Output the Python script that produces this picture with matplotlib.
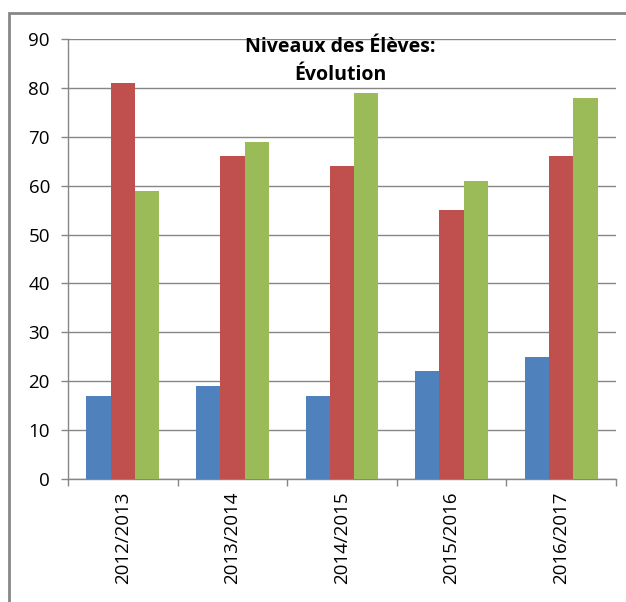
import matplotlib.pyplot as plt
import numpy as np
from matplotlib.patches import Rectangle

annees = ["2012/2013", "2013/2014", "2014/2015", "2015/2016", "2016/2017"]
serie_bleue = [17, 19, 17, 22, 25]
serie_rouge = [81, 66, 64, 55, 66]
serie_verte = [59, 69, 79, 61, 78]
graduations = [0, 10, 20, 30, 40, 50, 60, 70, 80, 90]

fig = plt.figure(figsize=(6.26, 6.02), dpi=100)
ax = fig.add_axes([68/626, 1 - 479/602, (616 - 68)/626, (479 - 39)/602])

# cadre exterieur du graphique
fig.patches.append(Rectangle((9/626, -0.05), 1.0, (602 - 13)/602 + 0.05,
                             transform=fig.transFigure, fill=False,
                             edgecolor="#878787", linewidth=2))

x = np.arange(len(annees))
w = 0.222
ax.bar(x - w, serie_bleue, w, color="#4f81bd", zorder=3)
ax.bar(x, serie_rouge, w, color="#c0504d", zorder=3)
ax.bar(x + w, serie_verte, w, color="#9bbb59", zorder=3)

ax.set_xlim(-0.5, len(annees) - 0.5)
ax.set_ylim(0, 90)
ax.set_yticks(graduations)
ax.yaxis.grid(True, color="#868686", linewidth=1, zorder=0)

ax.set_xticks(x)
ax.set_xticklabels(annees, rotation=90, fontsize=13.5, family="Open Sans")
ax.set_xticks(np.arange(len(annees) + 1) - 0.5, minor=True)
ax.tick_params(axis="x", which="major", length=0, pad=9)
ax.tick_params(axis="x", which="minor", length=5, color="#868686", width=1)
ax.tick_params(axis="y", length=5, color="#868686", width=1, pad=8)
for lab in ax.get_yticklabels():
    lab.set_fontsize(13.5)
    lab.set_family("Open Sans")

for s in ["top", "right"]:
    ax.spines[s].set_visible(False)
for s in ["left", "bottom"]:
    ax.spines[s].set_color("#868686")
    ax.spines[s].set_linewidth(1)

fig.text(340/626, 1 - 61/602, "Niveaux des Élèves:\nÉvolution", ha="center", va="center",
         fontsize=14, fontweight="bold", family="Open Sans", linespacing=1.55)

fig.savefig("out.png", dpi=100)
